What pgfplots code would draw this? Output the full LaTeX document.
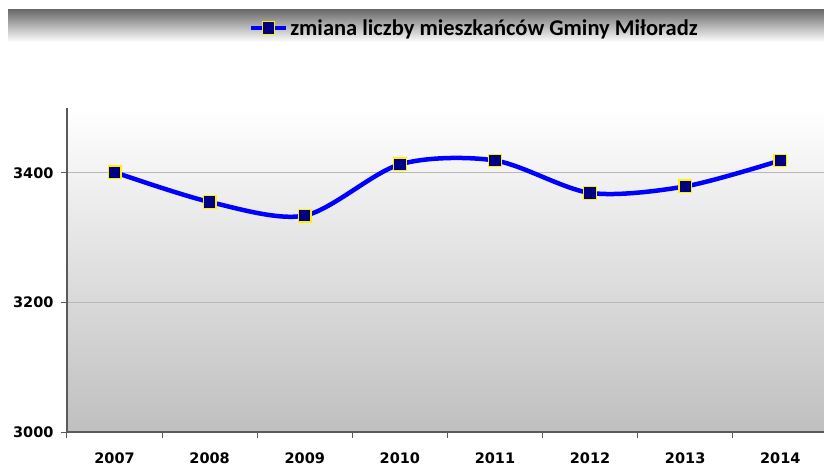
\documentclass[border=0pt]{standalone}
\usepackage{pgfplots}
\pgfplotsset{compat=1.18}
\usepackage{fontspec}
\setmainfont{DejaVu Sans}
\newfontfamily\legfont{Carlito}
\definecolor{navy}{HTML}{000080}
\definecolor{axgray}{HTML}{5A5A5A}
\begin{document}
\begin{tikzpicture}[x=1pt,y=1pt]
\useasboundingbox (0,0) rectangle (824,466);
\fill[white] (0,0) rectangle (824,466);
\shade[top color=black!58, bottom color=white] (8,424) rectangle (824,456);
\begin{axis}[
  at={(67pt,34pt)}, anchor=south west,
  scale only axis, width=757pt, height=324pt,
  xmin=-0.5, xmax=7.46, ymin=3000, ymax=3500,
  axis x line*=bottom, axis y line*=left,
  axis line style={axgray, line width=1.4pt},
  axis background/.style={shade, top color=white, bottom color=black!25},
  ytick={3000,3200,3400},
  ymajorgrids, grid style={black!28, line width=0.7pt},
  tick align=outside, major tick length=6pt,
  tick style={axgray, line width=1pt},
  xtick={-0.5,0.5,1.5,2.5,3.5,4.5,5.5,6.5}, xticklabels={},
  extra x ticks={0,1,2,3,4,5,6,7},
  extra x tick labels={2007,2008,2009,2010,2011,2012,2013,2014},
  extra x tick style={major tick length=0pt},
  xticklabel style={yshift=-17pt},
  yticklabel style={xshift=-4pt},
  tick label style={font=\bfseries\fontsize{14.5}{16}\selectfont},
  /pgf/number format/assume math mode=true,
  /pgf/number format/1000 sep={},
  legend style={at={(0.538,1.247)}, anchor=center, draw=none, fill=none,
    font=\legfont\bfseries\fontsize{22.5}{24}\selectfont},
  legend image code/.code={\draw[#1, mark repeat=2, mark phase=2] plot coordinates {(0pt,0pt)(17.5pt,0pt)(35pt,0pt)};},
  clip=false,
]
\addplot[color=blue, line width=4.5pt, smooth, mark=square*,
  mark options={fill=navy, draw=yellow, line width=1.3pt, solid}, mark size=6.3pt]
  coordinates {(0,3401)(1,3355)(2,3334)(3,3413)(4,3419)(5,3369)(6,3379)(7,3419)};
\addlegendentry{zmiana liczby mieszkańców Gminy Miłoradz}
\end{axis}
\end{tikzpicture}
\end{document}
